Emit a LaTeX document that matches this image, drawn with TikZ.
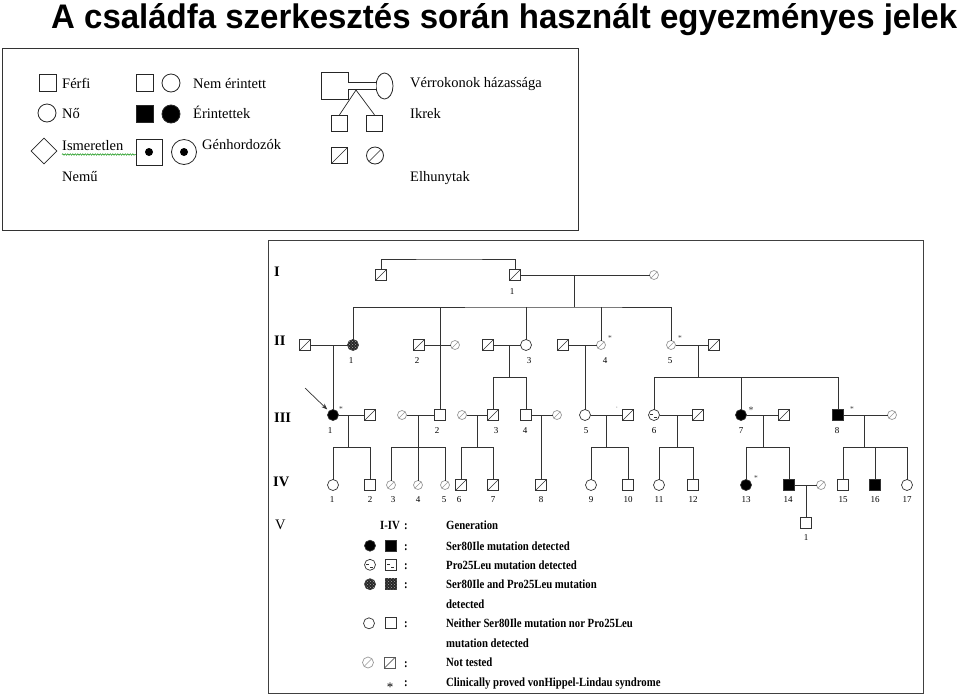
\documentclass[tikz,border=0pt]{standalone}
\usepackage{fontspec}
\setmainfont{Liberation Serif}
\newfontfamily\mytitlefont{Liberation Sans}
\usetikzlibrary{shapes.geometric,patterns,arrows.meta,decorations.pathmorphing}
\newcommand\mylegf{\fontsize{14.5}{16}\selectfont}
\newcommand\mynumf{\fontsize{9}{10}\selectfont}
\newcommand\mygenf{\fontsize{14.5}{16}\selectfont\bfseries}
\newcommand\mykeyf{\fontsize{12.5}{14}\selectfont\bfseries}
\newcommand\mykey[1]{\scalebox{0.86}[1]{\mykeyf #1}}
\begin{document}
\begin{tikzpicture}[x=1pt,y=-1pt,
  ln/.style={draw=black!80, line width=0.7pt},
  sym/.style={draw=black!80, line width=0.7pt, inner sep=0pt, outer sep=0pt, fill=white},
  psq/.style={sym, rectangle, minimum size=11pt},
  pci/.style={sym, circle, minimum size=11pt},
  slashed/.style={path picture={\draw[line width=0.6pt, draw=#1] (path picture bounding box.south west) -- (path picture bounding box.north east);}},
  slashed/.default=black!80,
  gci/.style={sym, circle, draw=black!40, minimum size=9pt, slashed=black!40},
  ssq/.style={psq, slashed},
  fsq/.style={psq, fill=black},
  fci/.style={pci, fill=black},
  chk/.style={fill=black!85, postaction={pattern=crosshatch dots, pattern color=white!65!black}},
  pro/.style={path picture={
     \draw[line width=0.6pt] ([shift={(-3.8pt,0.6pt)}]path picture bounding box.center) -- ++(3pt,0pt);
     \draw[line width=0.6pt] ([shift={(0.3pt,-2.4pt)}]path picture bounding box.center) -- ++(2.8pt,0pt);}},
  num/.style={font=\mynumf, inner sep=0pt, anchor=base},
  ast/.style={font=\fontsize{7.5}{7.5}\selectfont, inner sep=0pt, text=black!75},
  lt/.style={font=\mylegf, inner sep=0pt, anchor=base west},
  kt/.style={inner sep=0pt, anchor=base west},
  gl/.style={font=\mygenf, inner sep=0pt, anchor=base west},
  lsq/.style={draw=black!85, line width=0.8pt, rectangle, inner sep=0pt, minimum size=17pt},
  lci/.style={draw=black!85, line width=0.8pt, circle, inner sep=0pt, minimum size=18pt},
]
\useasboundingbox (0,0) rectangle (960,697);
\fill[white] (0,0) rectangle (960,697);

% ---------- title ----------
\node[anchor=base west, inner sep=0pt] (title) at (51,28) {\resizebox{906pt}{25pt}{\mytitlefont\bfseries A családfa szerkesztés során használt egyezményes jelek}};

% ---------- upper legend ----------
\draw[draw=black!80, line width=1pt] (2,48) rectangle (578,230);
\node[lsq] (fsqr) at (47.5,83) {};
\node[lt] (tferfi) at (62,88) {Férfi};
\node[lci] (nci) at (47,113) {};
\node[lt] (tno) at (62,118) {Nő};
\node[diamond, draw=black!85, line width=0.8pt, minimum width=26pt, minimum height=26pt, inner sep=0pt] (dia) at (44,151) {};
\node[lt] (tism) at (62,150.5) {Ismeretlen};
\draw[green!55!black, line width=0.5pt, decorate, decoration={snake, amplitude=0.7pt, segment length=2.5pt}] (62,154.5) -- (136,154.5);
\node[lt] (tnemu) at (62,181.5) {Nemű};

\node[lsq] (ne1) at (145,83) {};
\node[lci] (ne2) at (171,83) {};
\node[lt] (tne) at (193,88) {Nem érintett};
\node[lsq, fill=black] (er1) at (145,114) {};
\node[lci, fill=black] (er2) at (171,114) {};
\node[lt] (ter) at (193,118.5) {Érintettek};
\node[lsq, minimum size=26pt] (gh1) at (149,152) {};
\node[circle, fill=black, minimum size=8pt, inner sep=0pt] (gh1d) at (gh1) {};
\node[lci, minimum size=25pt] (gh2) at (184,152) {};
\node[circle, fill=black, minimum size=8pt, inner sep=0pt] (gh2d) at (gh2) {};
\node[lt] (tgh) at (202,149.5) {Génhordozók};

\node[lsq, minimum size=27pt] (vsq) at (334.5,86) {};
\node[ellipse, draw=black!85, line width=0.8pt, minimum width=17pt, minimum height=26pt, inner sep=0pt] (vel) at (384.5,86) {};
\draw[draw=black!85, line width=0.8pt, double, double distance=6.5pt] (vsq) -- (vel);
\coordinate (apex) at (356,90);
\node[lsq, minimum size=16.5pt] (tw1) at (339.5,123.5) {};
\node[lsq, minimum size=16.5pt] (tw2) at (374.5,123.5) {};
\draw[draw=black!85, line width=0.7pt] (apex) -- (tw1.north);
\draw[draw=black!85, line width=0.7pt] (apex) -- (tw2.north);
\node[lsq, minimum size=16.5pt, slashed=black!85] (dsq) at (339.5,155.5) {};
\node[lci, minimum size=17pt, slashed=black!85] (dci) at (375,155.5) {};
\node[lt] (tver) at (410,87.5) {Vérrokonok házassága};
\node[lt] (tikr) at (410,118) {Ikrek};
\node[lt] (telh) at (410,181.5) {Elhunytak};

% ---------- pedigree frame ----------
\draw[draw=black!75, line width=1pt] (268,240) rectangle (923,693);
\node[gl] (gI) at (274,276) {I};
\node[gl] (gII) at (274,345) {II};
\node[gl] (gIII) at (274,422) {III};
\node[gl] (gIV) at (273,486) {IV};
\node[gl, font=\fontsize{14.5}{16}\selectfont] (gV) at (275,529) {V};

% Generation I
\node[ssq] (I0) at (381,275) {};
\node[ssq] (I1) at (515,275) {};
\node[gci] (I1w) at (654,275) {};
\node[num] (lI1) at (512,294) {1};

% Generation II
\node[ssq] (II1h) at (305,345) {};
\node[pci, chk] (II1) at (353,345) {};
\node[ssq] (II2) at (419,345) {};
\node[gci] (II2w) at (455,345) {};
\node[ssq] (II3h) at (488,345) {};
\node[pci] (II3) at (526,345) {};
\node[ssq] (II4h) at (563,345) {};
\node[gci] (II4) at (601,345) {};
\node[gci] (II5) at (671,345) {};
\node[ssq] (II5h) at (714,345) {};
\node[num] (lII1) at (351,363) {1};
\node[num] (lII2) at (417,363) {2};
\node[num] (lII3) at (529,363) {3};
\node[num] (lII4) at (605,363) {4};
\node[num] (lII5) at (670,363) {5};
\node[ast] (aII4) at (610,338) {*};
\node[ast] (aII5) at (680,338) {*};

% Generation III
\node[fci] (III1) at (333,415) {};
\node[ssq] (III1h) at (370,415) {};
\node[gci] (III2w) at (402,415) {};
\node[psq] (III2) at (440,415) {};
\node[gci] (III3w) at (462,415) {};
\node[ssq] (III3) at (493,415) {};
\node[psq] (III4) at (526,415) {};
\node[gci] (III4w) at (557,415) {};
\node[pci] (III5) at (585,415) {};
\node[ssq] (III5h) at (628,415) {};
\node[pci, pro] (III6) at (654,415) {};
\node[ssq] (III6h) at (698,415) {};
\node[fci] (III7) at (741,415) {};
\node[ssq] (III7h) at (784,415) {};
\node[fsq] (III8) at (838,415) {};
\node[gci] (III8w) at (892,415) {};
\node[num] (lIII1) at (330,433) {1};
\node[num] (lIII2) at (437,433) {2};
\node[num] (lIII3) at (496,433) {3};
\node[num] (lIII4) at (525,433) {4};
\node[num] (lIII5) at (586,433) {5};
\node[num] (lIII6) at (654,433) {6};
\node[num] (lIII7) at (741,433) {7};
\node[num] (lIII8) at (837,433) {8};
\node[ast] (aIII1) at (341,409) {*};
\node[ast, font=\fontsize{10}{10}\selectfont] (aIII7) at (751,410) {*};
\node[ast] (aIII8) at (852,409) {*};
\node[ast, font=\fontsize{5}{5}\selectfont] (tick5) at (617,409) {'};

% Generation IV
\node[pci] (IV1) at (333,485) {};
\node[psq] (IV2) at (370,485) {};
\node[gci] (IV3) at (391,485) {};
\node[gci] (IV4) at (418,485) {};
\node[gci] (IV5) at (445,485) {};
\node[ssq] (IV6) at (461,485) {};
\node[ssq] (IV7) at (493,485) {};
\node[ssq] (IV8) at (541,485) {};
\node[pci] (IV9) at (591,485) {};
\node[psq] (IV10) at (628,485) {};
\node[pci] (IV11) at (659,485) {};
\node[psq] (IV12) at (693,485) {};
\node[fci] (IV13) at (746,485) {};
\node[fsq] (IV14) at (789,485) {};
\node[gci] (IV14w) at (821,485) {};
\node[psq] (IV15) at (843,485) {};
\node[fsq] (IV16) at (875,485) {};
\node[pci] (IV17) at (907,485) {};
\node[ast] (aIV13) at (756,478) {*};
\foreach \n/\x in {1/332,2/370,3/393,4/418,5/444,6/459,7/493,8/541,9/591,10/628,11/659,12/693,13/746,14/788,15/843,16/875,17/907}
  \node[num] (lIV\n) at (\x,502) {\n};

% Generation V
\node[psq] (V1) at (806,523) {};
\node[num] (lV1) at (806,540) {1};

% ---------- connectors ----------
\coordinate (itop) at (450,259);
\draw[ln] (I0) |- (itop) -| (I1);
\draw[ln] (I1) -- (I1w);
\coordinate (m0) at (574,275);
\coordinate (s0) at (574,307);
\draw[ln] (m0) -- (s0);
\draw[ln] (II1) |- (s0) -| (II5);
\draw[ln] (III2) -- (III2 |- s0);
\draw[ln] (II3) -- (II3 |- s0);
\draw[ln] (II4) -- (II4 |- s0);

\draw[ln] (II1h) -- (II1);
\draw[ln] (II2) -- (II2w);
\draw[ln] (II3h) -- (II3);
\draw[ln] (II4h) -- (II4);
\draw[ln] (II5) -- (II5h);

\coordinate (m1) at (333,345);
\draw[ln] (m1) -- (III1);
\coordinate (m3) at (509,345);
\coordinate (s3) at (509,377);
\draw[ln] (m3) -- (s3);
\draw[ln] (III3) |- (s3) -| (III4);
\coordinate (m4) at (585,345);
\draw[ln] (m4) -- (III5);
\coordinate (m5) at (698,345);
\coordinate (s5) at (698,377);
\draw[ln] (m5) -- (s5);
\draw[ln] (III6) |- (s5) -| (III8);
\draw[ln] (III7) -- (III7 |- s5);

\draw[ln] (III1) -- (III1h);
\draw[ln] (III2w) -- (III2);
\draw[ln] (III3w) -- (III3);
\draw[ln] (III4) -- (III4w);
\draw[ln] (III5) -- (III5h);
\draw[ln] (III6) -- (III6h);
\draw[ln] (III7) -- (III7h);
\draw[ln] (III8) -- (III8w);

\coordinate (n1) at (348,415); \coordinate (t1) at (348,447);
\draw[ln] (n1) -- (t1); \draw[ln] (IV1) |- (t1) -| (IV2);
\coordinate (n2) at (418,415); \coordinate (t2) at (418,447);
\draw[ln] (n2) -- (IV4); \draw[ln] (IV3) |- (t2) -| (IV5);
\coordinate (n3) at (477,415); \coordinate (t3) at (477,447);
\draw[ln] (n3) -- (t3); \draw[ln] (IV6) |- (t3) -| (IV7);
\coordinate (n4) at (541,415);
\draw[ln] (n4) -- (IV8);
\coordinate (n5) at (606,415); \coordinate (t5) at (606,447);
\draw[ln] (n5) -- (t5); \draw[ln] (IV9) |- (t5) -| (IV10);
\coordinate (n6) at (677,415); \coordinate (t6) at (677,447);
\draw[ln] (n6) -- (t6); \draw[ln] (IV11) |- (t6) -| (IV12);
\coordinate (n7) at (763,415); \coordinate (t7) at (763,447);
\draw[ln] (n7) -- (t7); \draw[ln] (IV13) |- (t7) -| (IV14);
\coordinate (n8) at (864,415); \coordinate (t8) at (864,447);
\draw[ln] (n8) -- (t8); \draw[ln] (IV15) |- (t8) -| (IV17);
\draw[ln] (IV16) -- (IV16 |- t8);

\draw[ln] (IV14) -- (IV14w);
\coordinate (n9) at (806,485);
\draw[ln] (n9) -- (V1);

\coordinate (arrS) at (305,388);
\draw[ln, -{Stealth[length=6pt,width=4.5pt]}, shorten >=2.5pt] (arrS) -- (III1);

% ---------- lower key ----------
\node[kt, anchor=base east] (kIIV) at (400,529) {\mykey{I-IV}};
\foreach \k/\y in {0/529,1/550,2/569,3/588,5/627,7/667,8/686}
  \node[kt, anchor=base] (kc\k) at (406,\y) {\mykey{:}};
\node[fci] (kc1a) at (370,545.7) {};
\node[fsq] (kc1b) at (391,545.7) {};
\node[pci, pro] (kc2a) at (370,564.8) {};
\node[psq, pro] (kc2b) at (391,564.8) {};
\node[pci, chk] (kc3a) at (370,584.2) {};
\node[psq, chk] (kc3b) at (391,584.2) {};
\node[pci] (kc5a) at (369,623.3) {};
\node[psq] (kc5b) at (391,623.3) {};
\node[gci, minimum size=11pt] (kc7a) at (368,662.5) {};
\node[ssq, draw=black!65] (kc7b) at (390,662.5) {};
\node[inner sep=0pt, font=\fontsize{13}{13}\selectfont] (kstar) at (390,687) {*};

\node[kt] (k0) at (446,529) {\mykey{Generation}};
\node[kt] (k1) at (446,550) {\mykey{Ser80Ile mutation detected}};
\node[kt] (k2) at (446,569) {\mykey{Pro25Leu mutation detected}};
\node[kt] (k3) at (446,588) {\mykey{Ser80Ile and Pro25Leu mutation}};
\node[kt] (k4) at (446,608) {\mykey{detected}};
\node[kt] (k5) at (446,627) {\mykey{Neither Ser80Ile mutation nor Pro25Leu}};
\node[kt] (k6) at (446,647) {\mykey{mutation detected}};
\node[kt] (k7) at (446,666.5) {\mykey{Not tested}};
\node[kt] (k8) at (446,686) {\mykey{Clinically proved vonHippel-Lindau syndrome}};
\end{tikzpicture}
\end{document}
